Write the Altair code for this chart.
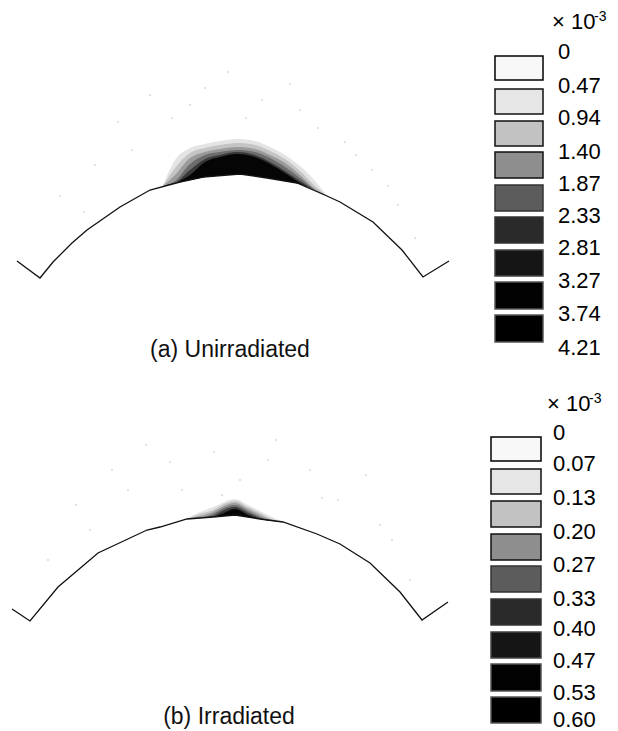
import altair as alt
import pandas as pd

FONT = "Liberation Sans"
GREYS = ["#e4e4e4", "#c4c4c4", "#9a9a9a", "#6c6c6c", "#383838", "#050505"]

# Outline of the body, panel (a)
a_arc_x = [17, 40, 53, 72, 87, 120, 150, 180, 203, 240, 267, 297, 327, 340, 373, 402, 423, 449]
a_arc_y = [261, 278, 262, 243, 230, 207, 190, 182, 177, 174, 178, 183, 196, 202, 222, 250, 277, 261]
# Contour bands, panel (a)
a_x = [163, 175, 190, 205, 220, 237, 255, 270, 285, 300, 315, 327]
a_base = [186, 183, 180, 177, 175.5, 174, 176, 178, 181, 184, 190, 196]
a_levels = [
    [185, 160, 148, 144, 141, 139, 141, 147, 155, 166, 181, 196],
    [186, 168, 153, 148, 145, 143, 145, 151, 159, 171, 186, 196],
    [186, 175, 158, 152, 149, 147, 149, 155, 163, 175, 189, 196],
    [186, 181, 164, 155, 152, 150, 152, 158, 167, 178, 190, 196],
    [186, 183, 170, 159, 155, 152, 155, 162, 171, 181, 190, 196],
    [186, 183, 175, 162, 157, 154, 157, 164, 173, 183, 190, 196],
]
# Outline and bands, panel (b)
b_arc_x = [12, 30, 58, 98, 147, 160, 187, 213, 235, 260, 283, 317, 340, 370, 400, 422, 448]
b_arc_y = [609, 621, 587, 553, 530, 527, 519, 517, 515, 519, 522, 534, 544, 563, 592, 620, 602]
b_x = [187, 200, 213, 222, 235, 248, 260, 272, 283]
b_base = [519, 518, 517, 516, 515, 517, 519, 521, 522]
b_levels = [
    [518, 512, 507, 503, 499, 505, 511, 517, 522],
    [519, 514, 510, 505, 501, 507, 513, 519, 522],
    [519, 516, 512, 507, 503, 509, 515, 520, 522],
    [519, 518, 514, 509, 505, 511, 517, 521, 522],
    [519, 518, 516, 511, 507, 513, 518, 521, 522],
    [519, 518, 517, 514, 509, 515, 519, 521, 522],
]
# Faint scatter above the body
speck_x = [60, 95, 118, 150, 172, 205, 228, 262, 290, 318, 345, 372, 398, 415, 84, 132, 190, 246, 300, 356, 388,
           48, 76, 112, 146, 182, 214, 240, 276, 310, 338, 366, 392, 410, 90, 128, 170, 222, 268, 322, 380]
speck_y = [196, 165, 122, 95, 118, 88, 72, 100, 84, 128, 142, 170, 205, 238, 212, 150, 105, 118, 110, 155, 186,
           560, 505, 470, 445, 490, 452, 480, 440, 470, 500, 475, 540, 580, 530, 490, 462, 495, 460, 498, 525]

# Legends
fills = ["#f8f8f8", "#e6e6e6", "#c2c2c2", "#8e8e8e", "#5c5c5c", "#2a2a2a", "#151515", "#020202", "#000000"]
strokes = ["#000000", "#111111", "#111111", "#111111", "#333333", "#333333", "#444444", "#555555", "#555555"]
a_box_top = [56, 89, 121, 152, 185, 217, 250, 282, 315]
a_box_bot = [80, 114, 146, 178, 211, 243, 276, 309, 342]
a_labels = ["0", "0.47", "0.94", "1.40", "1.87", "2.33", "2.81", "3.27", "3.74", "4.21"]
a_label_y = [52, 86, 118, 152, 184, 216, 248, 281, 314, 348]
b_box_top = [437, 469, 501, 534, 566, 599, 632, 664, 697]
b_box_bot = [461, 494, 527, 560, 592, 625, 658, 691, 723]
b_labels = ["0", "0.07", "0.13", "0.20", "0.27", "0.33", "0.40", "0.47", "0.53", "0.60"]
b_label_y = [433, 464, 498, 532, 565, 599, 629, 661, 693, 720]

titles = pd.DataFrame({"x": [230, 229], "y": [350, 717], "t": ["(a) Unirradiated", "(b) Irradiated"]})

xs = alt.Scale(domain=[8, 610], range=[0, 602], clamp=False)
ys = alt.Scale(domain=[8, 731], range=[0, 723], clamp=False)
X = lambda f="x": alt.X(f + ":Q", scale=xs, axis=None)
Y = lambda f="y": alt.Y(f + ":Q", scale=ys, axis=None)

layers = []


def bands(x, base, levels):
    for lev, col in zip(levels, GREYS):
        df = pd.DataFrame({"x": x, "y": lev, "y2": base})
        layers.append(alt.Chart(df).mark_area(color=col, interpolate="monotone", opacity=1)
                      .encode(X(), Y(), y2="y2:Q"))


def outline(x, y):
    df = pd.DataFrame({"x": x, "y": y})
    layers.append(alt.Chart(df).mark_line(color="#111111", strokeWidth=1.3)
                  .encode(X(), Y(), order=alt.Order("x:Q")))


def legend(left, right, tops, bots, labels, label_y, label_x, head_x, head_y):
    df = pd.DataFrame({"x": [left] * 9, "x2": [right] * 9, "y": tops, "y2": bots, "f": fills, "s": strokes})
    layers.append(alt.Chart(df).mark_rect(strokeWidth=1.5).encode(
        X(), x2="x2:Q", y=Y(), y2="y2:Q",
        fill=alt.Fill("f:N", scale=None), stroke=alt.Stroke("s:N", scale=None)))
    tx = pd.DataFrame({"x": [label_x] * len(labels), "y": label_y, "t": labels})
    layers.append(alt.Chart(tx).mark_text(font=FONT, fontSize=22, align="left", baseline="middle", color="#000000")
                  .encode(X(), Y(), text="t:N"))
    h1 = pd.DataFrame({"x": [head_x], "y": [head_y], "t": ["× 10"]})
    layers.append(alt.Chart(h1).mark_text(font=FONT, fontSize=22, align="left", baseline="middle", color="#000000")
                  .encode(X(), Y(), text="t:N"))
    h2 = pd.DataFrame({"x": [head_x + 42], "y": [head_y - 5], "t": ["-3"]})
    layers.append(alt.Chart(h2).mark_text(font=FONT, fontSize=14, align="left", baseline="middle", color="#000000")
                  .encode(X(), Y(), text="t:N"))


specks = pd.DataFrame({"x": speck_x, "y": speck_y})
layers.append(alt.Chart(specks).mark_square(size=3, color="#d4d4d4", opacity=1).encode(X(), Y()))
bands(a_x, a_base, a_levels)
bands(b_x, b_base, b_levels)
outline(a_arc_x, a_arc_y)
outline(b_arc_x, b_arc_y)
legend(495, 543, a_box_top, a_box_bot, a_labels, a_label_y, 558, 552, 22)
legend(491, 541, b_box_top, b_box_bot, b_labels, b_label_y, 553, 547, 404)
layers.append(alt.Chart(titles).mark_text(font=FONT, fontSize=23, align="center", baseline="middle", color="#111111")
              .encode(X(), Y(), text="t:N"))

chart = alt.layer(*layers).properties(width=602, height=723, padding=0, background="#ffffff",
                                      autosize=alt.AutoSizeParams(type="none")).configure_view(stroke=None)
chart.save("out.html", embed_options={"renderer": "svg", "actions": False})
